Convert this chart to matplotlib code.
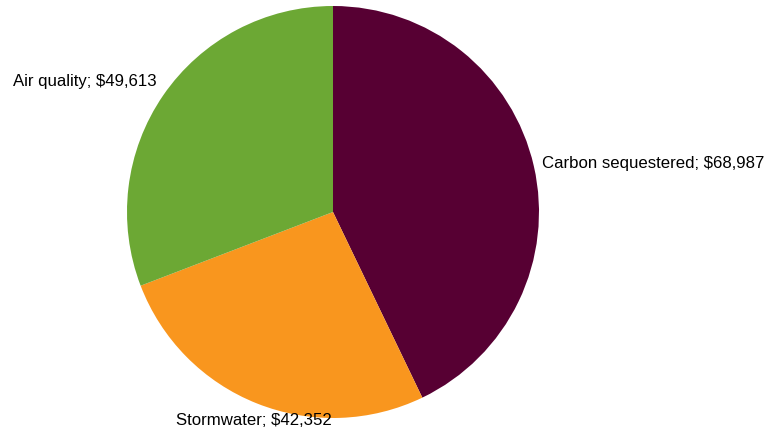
import numpy as np
import matplotlib
matplotlib.use('Agg')
import matplotlib.pyplot as plt

# ------------------------------------------------------------------------------
# Data
# ------------------------------------------------------------------------------
categories = ['Carbon sequestered', 'Stormwater', 'Air quality']
values = [68987, 42352, 49613]
colors = ['#570033', '#f9961e', '#6ca834']

# ------------------------------------------------------------------------------
# Plot
# ------------------------------------------------------------------------------
plt.rcParams['font.family'] = ['Liberation Sans', 'DejaVu Sans']

fig = plt.figure(figsize=(7.68, 4.30), dpi=100)
ax = fig.add_axes([0, 0, 1, 1])

cx, cy, R = 333, 218, 206
wedges, _ = ax.pie(values, colors=colors, startangle=90, counterclock=False,
                   center=(cx, cy), radius=R, frame=True)
ax.set_xlim(0, 768)
ax.set_ylim(0, 430)
ax.axis('off')

for w, name, val in zip(wedges, categories, values):
    a = np.deg2rad((w.theta1 + w.theta2) / 2)
    c, s = np.cos(a), np.sin(a)
    x = cx + 1.04 * R * c
    y = cy + 1.05 * R * s
    ha = 'left' if c > 0.5 else ('right' if c < -0.5 else 'center')
    va = 'bottom' if s > 0.5 else ('top' if s < -0.5 else 'center')
    ax.text(x, y, '%s; $%s' % (name, format(val, ',')), ha=ha, va=va,
            fontsize=12.1, color='black')

plt.savefig('out.png', dpi=100)
